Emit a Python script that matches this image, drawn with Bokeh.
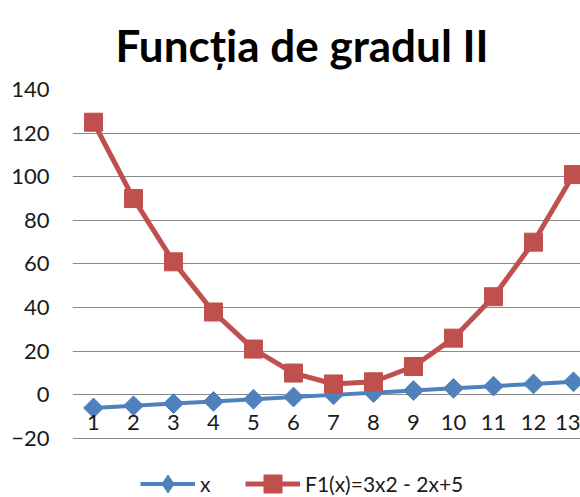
from bokeh.plotting import figure
from bokeh.models import Range1d, FixedTicker, LinearAxis, Legend, LegendItem
from bokeh.embed import file_html
from bokeh.resources import INLINE

# ---- data ----
categories = [1, 2, 3, 4, 5, 6, 7, 8, 9, 10, 11, 12, 13]
x_values = [-6, -5, -4, -3, -2, -1, 0, 1, 2, 3, 4, 5, 6]
f1_values = [125, 90, 61, 38, 21, 10, 5, 6, 13, 26, 45, 70, 101]
y_ticks = [-20, 0, 20, 40, 60, 80, 100, 120, 140]
title_text = "Funcția de gradul II"
series_names = ["x", "F1(x)=3x2 - 2x+5"]

BLUE = "#4F81BD"
RED = "#C0504D"
GRID = "#8a8a8a"
FONT = "Lato"
TXT = "#1a1a1a"

p = figure(width=580, height=497, output_backend="svg", toolbar_location=None,
           x_range=Range1d(0.475, 13.175), y_range=Range1d(-47.05, 140),
           x_axis_type=None,
           min_border_left=72, min_border_right=0, min_border_top=89, min_border_bottom=0)
p.outline_line_color = None
p.background_fill_color = "white"
p.border_fill_color = "white"

# title
p.title.text = title_text
p.title.align = "left"
p.title.vertical_align = "top"
p.title.text_font = FONT
p.title.text_font_style = "bold"
p.title.text_font_size = "44px"
p.title.text_color = "black"
p.title.offset = 43
p.title.standoff = 33

# y axis
ya = p.yaxis[0]
ya.ticker = FixedTicker(ticks=y_ticks)
ya.axis_line_color = None
ya.major_tick_line_color = None
ya.minor_tick_line_color = None
ya.major_tick_out = 0
ya.major_tick_in = 0
ya.major_label_standoff = 23
ya.major_label_text_font = FONT
ya.major_label_text_font_size = "22px"
ya.major_label_text_color = TXT

p.ygrid.ticker = FixedTicker(ticks=y_ticks)
p.ygrid.grid_line_color = GRID
p.ygrid.grid_line_width = 1

# category axis crossing at y = 0
xa = LinearAxis(fixed_location=0, ticker=FixedTicker(ticks=categories))
xa.axis_line_color = None
xa.major_tick_line_color = None
xa.minor_tick_line_color = None
xa.major_tick_out = 0
xa.major_tick_in = 0
xa.major_label_standoff = 20
xa.major_label_text_font = FONT
xa.major_label_text_font_size = "22px"
xa.major_label_text_color = TXT
p.add_layout(xa, "below")

# series
l1 = p.line(categories, x_values, line_color=BLUE, line_width=4)
m1 = p.scatter(categories, x_values, marker="square", angle=0.785398, size=14,
               fill_color=BLUE, line_color=BLUE)
# legend-only diamond (the legend draws markers unrotated)
m1_key = p.scatter(categories, x_values, marker="diamond", size=20,
                   fill_color=BLUE, line_color=BLUE, visible=False)
l2 = p.line(categories, f1_values, line_color=RED, line_width=5)
m2 = p.scatter(categories, f1_values, marker="square", size=18,
               fill_color=RED, line_color=RED)

legend = Legend(items=[LegendItem(label=series_names[0], renderers=[l1, m1_key]),
                       LegendItem(label=series_names[1], renderers=[l2, m2])],
                orientation="horizontal", location=(68, -9),
                glyph_width=55, glyph_height=45, spacing=25, label_standoff=5,
                label_height=18,
                label_text_font=FONT, label_text_font_size="21px",
                label_text_color=TXT,
                background_fill_alpha=0, border_line_color=None,
                padding=0, margin=0)
p.add_layout(legend)

open("out.html", "w").write(file_html(p, INLINE))
